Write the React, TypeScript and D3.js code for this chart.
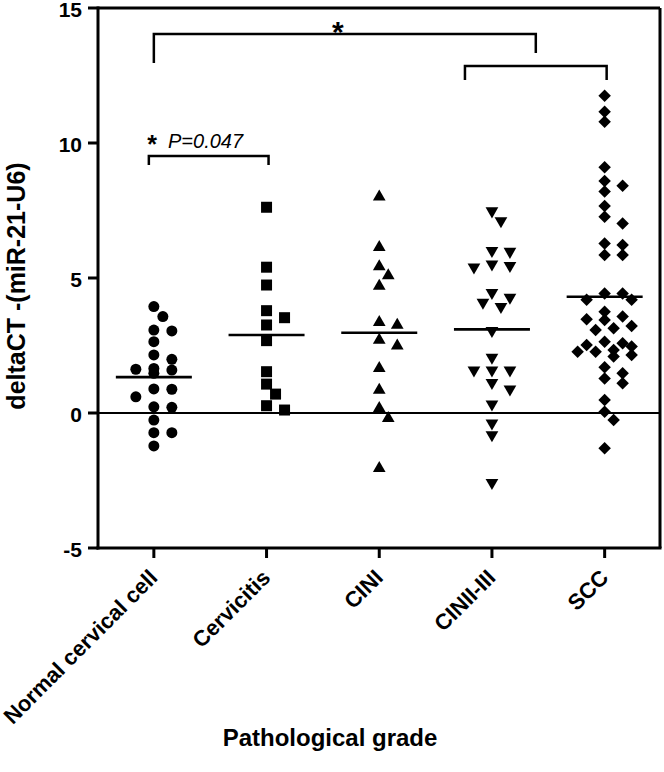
import React from 'react';
import * as d3 from 'd3';

const categories = ['Normal cervical cell', 'Cervicitis', 'CINI', 'CINII-III', 'SCC'];

const normalValues = [3.94, 3.57, 3.07, 3.04, 2.64, 2.15, 1.99, 1.59, 1.65, 1.47, 1.62, 0.89, 0.88, 0.6, 0.23, 0.21, -0.26, -0.73, -0.73, -1.22];
const cervicitisValues = [7.62, 5.4, 4.74, 3.79, 3.53, 3.26, 2.68, 1.53, 1.07, 0.7, 0.11, 0.27];
const ciniValues = [8.01, 6.14, 5.42, 5.09, 4.7, 3.36, 3.26, 2.7, 2.49, 1.65, 0.85, 0.17, -0.2, -2.05];
const ciniiValues = [7.48, 7.11, 5.98, 6.01, 5.46, 5.4, 5.51, 4.28, 4.46, 3.94, 4.1, 3.05, 2.06, 1.59, 1.59, 1.59, 1.12, 0.88, 0.33, -0.38, -0.81, -2.58];
const sccValues = [11.75, 11.16, 10.79, 9.1, 8.42, 8.59, 8.2, 7.67, 7.02, 7.27, 6.28, 6.22, 5.85, 5.85, 4.43, 4.19, 4.43, 4.19, 3.75, 3.57, 3.47, 3.44, 3.14, 3.22, 3.07, 2.52, 2.64, 2.58, 2.46, 2.27, 2.33, 2.27, 2.09, 2.15, 1.69, 1.47, 1.28, 1.1, 0.48, 0.05, -0.26, -1.31];

const groupValues = [normalValues, cervicitisValues, ciniValues, ciniiValues, sccValues];
const yTicks = [-5, 0, 5, 10, 15];
const yDomain = [-5, 15];

const W = 664;
const H = 772;
const left = 98;
const right = 660;
const top = 8;
const bottom = 548;

const x = d3.scaleBand<string>().domain(categories).range([97.5, 661]).padding(0);
const y = d3.scaleLinear().domain(yDomain).range([bottom, top]);

type P = { x: number; y: number; v: number };

function swarm(values: number[], cx: number, ax: number, ay: number, maxOff: number): P[] {
  const sorted = values.map((v) => ({ v, py: y(v) })).sort((a, b) => a.py - b.py);
  const offsets: number[] = [0];
  for (let k = 9; k <= maxOff; k += 9) offsets.push(k, -k);
  const placed: { v: number; py: number; dx: number }[] = [];
  for (const p of sorted) {
    let best = 0;
    let bestScore = Infinity;
    for (const o of offsets) {
      let score = 0;
      for (const q of placed) {
        const ex = (q.dx - o) / ax;
        const ey = (q.py - p.py) / ay;
        const d = ex * ex + ey * ey;
        if (d < 1) score += 1 - d;
      }
      if (score === 0) {
        best = o;
        bestScore = 0;
        break;
      }
      if (score < bestScore - 1e-9) {
        bestScore = score;
        best = o;
      }
    }
    placed.push({ ...p, dx: best });
  }
  return placed.map((p) => ({ x: cx + p.dx, y: p.py, v: p.v }));
}

const symbols = [
  { type: d3.symbolCircle, size: 95, rotate: 0, ax: 17, ay: 11, maxOff: 18 },
  { type: d3.symbolSquare, size: 121, rotate: 0, ax: 17, ay: 11, maxOff: 18 },
  { type: d3.symbolTriangle, size: 70, rotate: 0, ax: 17, ay: 10.5, maxOff: 18 },
  { type: d3.symbolTriangle, size: 70, rotate: 180, ax: 17, ay: 10.5, maxOff: 18 },
  { type: d3.symbolSquare, size: 78, rotate: 45, ax: 16, ay: 9.5, maxOff: 27 },
];

const FONT = "'Liberation Sans', Arial, sans-serif";

export default function App() {
  const center = (c: string) => (x(c) as number) + x.bandwidth() / 2;

  const c0 = center(categories[0]);
  const c1 = center(categories[1]);
  const c3 = center(categories[3]);
  const c4 = center(categories[4]);
  const b2Left = c3 - 27;
  const b2Right = c4 + 2;
  const b2Mid = (b2Left + b2Right) / 2;

  return (
    <svg
      width={W}
      height={H}
      style={{ position: 'absolute', left: 0, top: 0, display: 'block', background: '#fff' }}
      fontFamily={FONT}
    >
      <rect x={0} y={0} width={W} height={H} fill="#fff" />

      {/* zero line */}
      <line x1={left} x2={right} y1={y(0)} y2={y(0)} stroke="#000" strokeWidth={2} />

      {/* points */}
      {groupValues.map((vals, gi) => {
        const cx = center(categories[gi]);
        const s = symbols[gi];
        const pts = swarm(vals, cx, s.ax, s.ay, s.maxOff);
        const path = d3.symbol().type(s.type).size(s.size)() as string;
        return (
          <g key={gi}>
            {pts.map((p, i) => (
              <path key={i} d={path} transform={`translate(${p.x},${p.y}) rotate(${s.rotate})`} fill="#000" />
            ))}
          </g>
        );
      })}

      {/* mean lines */}
      {groupValues.map((vals, gi) => {
        const cx = center(categories[gi]);
        const m = d3.mean(vals) as number;
        return <line key={gi} x1={cx - 38} x2={cx + 38} y1={y(m)} y2={y(m)} stroke="#000" strokeWidth={2.6} />;
      })}

      {/* frame */}
      <line x1={left} x2={right} y1={top} y2={top} stroke="#000" strokeWidth={3} />
      <line x1={right} x2={right} y1={top} y2={bottom} stroke="#000" strokeWidth={3} />
      <line x1={left} x2={left} y1={top - 1.5} y2={bottom + 1.5} stroke="#000" strokeWidth={3} />
      <line x1={left - 1.5} x2={right + 1.5} y1={bottom} y2={bottom} stroke="#000" strokeWidth={3} />

      {/* y ticks */}
      {yTicks.map((t) => (
        <g key={t}>
          <line x1={left - 10} x2={left} y1={y(t)} y2={y(t)} stroke="#000" strokeWidth={3} />
          <text x={82} y={y(t) + 1} dy="0.36em" textAnchor="end" fontSize={21} fontWeight="bold">
            {t}
          </text>
        </g>
      ))}

      {/* x ticks and labels */}
      {categories.map((c) => {
        const cx = center(c);
        return (
          <g key={c}>
            <line x1={cx} x2={cx} y1={bottom} y2={bottom + 10} stroke="#000" strokeWidth={3} />
            <text
              transform={`translate(${cx + 5},${bottom + 31}) rotate(-45)`}
              textAnchor="end"
              fontSize={22}
              fontWeight="bold"
            >
              {c}
            </text>
          </g>
        );
      })}

      {/* axis titles */}
      <text
        transform={`translate(25,286) rotate(-90)`}
        textAnchor="middle"
        fontSize={25}
        fontWeight="bold"
      >
        deltaCT -(miR-21-U6)
      </text>
      <text x={330} y={746} textAnchor="middle" fontSize={24} fontWeight="bold">
        Pathological grade
      </text>

      {/* significance brackets */}
      <path d={`M${c0},63 V34 H${b2Mid} V53`} fill="none" stroke="#000" strokeWidth={2.5} />
      <text x={(c0 + b2Mid) / 2 - 7} y={42} textAnchor="middle" fontSize={30} fontWeight="bold">
        *
      </text>
      <path d={`M${b2Left},80 V66 H${b2Right} V80`} fill="none" stroke="#000" strokeWidth={2.5} />

      <path d={`M${c0 - 5},165 V156 H${c1 + 2} V165`} fill="none" stroke="#000" strokeWidth={2.5} />
      <text x={152} y={153} textAnchor="middle" fontSize={25} fontWeight="bold">
        *
      </text>
      <text x={168} y={148} fontSize={20} fontStyle="italic">
        P=0.047
      </text>
    </svg>
  );
}
